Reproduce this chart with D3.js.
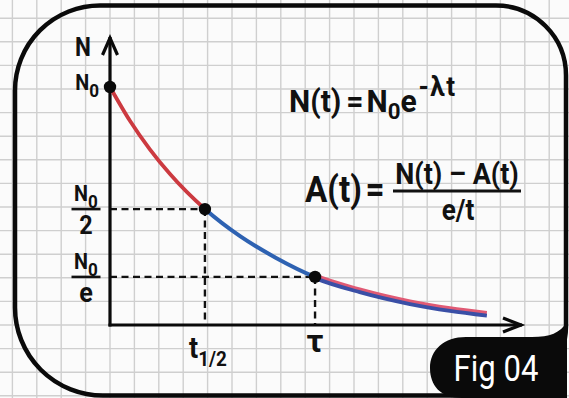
<!DOCTYPE html>
<html>
<head>
<meta charset="utf-8">
<script src="https://cdn.jsdelivr.net/npm/d3@7"></script>
<style>
  html, body { margin: 0; padding: 0; background: #fbfbfb; }
  svg { display: block; }
  text { font-family: Roboto, "Noto Sans", sans-serif; fill: #111; }
</style>
</head>
<body>
<svg id="chart" width="569" height="398"></svg>
<script>
// Decay curve samples: time in units of the half-life, N in units of N0
const tValues = [0, 0.21, 0.42, 0.63, 1.0, 1.37, 1.74, 2.16, 2.63, 3.16, 3.58, 3.97];
const nValues = [1, 0.858, 0.738, 0.635, 0.487, 0.373, 0.284, 0.202, 0.143, 0.093, 0.064, 0.044];

// Marked points: start, half-life, mean lifetime
const markerT = [0, 1.0, 2.16];
const markerN = [1, 0.487, 0.202];

// Axis tick labels
const xTickLabels = ["t", "τ"];          // t½ and τ
const xTickValues = [1.0, 2.16];
const yTickValues = [1, 0.487, 0.202];   // N0, N0/2, N0/e

const W = 569, H = 398;
const svg = d3.select("#chart");

const x = d3.scaleLinear().domain([0, 4.34]).range([110, 522]);
const y = d3.scaleLinear().domain([0, 1]).range([325, 87]);

// ---- graph-paper background ----
const gridStepX = 24.4, gridStepY = 23.6;
const grid = svg.append("g").attr("stroke", "#cfcfcf").attr("stroke-width", 1.4);
d3.range(x(0) - gridStepX * 5, W + 1, gridStepX).forEach(gx => {
  grid.append("line").attr("x1", gx).attr("x2", gx).attr("y1", 0).attr("y2", H);
});
d3.range(y(0) + gridStepY * 3, -1, -gridStepY).forEach(gy => {
  grid.append("line").attr("x1", 0).attr("x2", W).attr("y1", gy).attr("y2", gy);
});

// ---- rounded frame ----
(function frame() {
  const L = 15, R = 566, T = 5.5, B = 395.5;
  const rTL = 85, rTR = 70, rBL = 88, rBR = 70;
  const p = d3.path();
  p.moveTo(L + rTL, T);
  p.lineTo(R - rTR, T);
  p.arcTo(R, T, R, T + rTR, rTR);
  p.lineTo(R, B - rBR);
  p.arcTo(R, B, R - rBR, B, rBR);
  p.lineTo(L + rBL, B);
  p.arcTo(L, B, L, B - rBL, rBL);
  p.lineTo(L, T + rTL);
  p.arcTo(L, T, L + rTL, T, rTL);
  p.closePath();
  svg.append("path").attr("d", p.toString())
    .attr("fill", "none").attr("stroke", "#0a0a0a").attr("stroke-width", 4.5);
})();

// ---- guide lines to the marked points ----
const dash = svg.append("g").attr("stroke", "#111").attr("stroke-width", 2.4)
  .attr("stroke-dasharray", "7,4.5").attr("fill", "none");
[1, 2].forEach(i => {
  dash.append("line").attr("x1", x(0)).attr("x2", x(markerT[i]))
    .attr("y1", y(markerN[i])).attr("y2", y(markerN[i]));
  dash.append("line").attr("x1", x(markerT[i])).attr("x2", x(markerT[i]))
    .attr("y1", y(markerN[i])).attr("y2", y(0));
});

// ---- axes with open arrowheads ----
const axes = svg.append("g").attr("stroke", "#0a0a0a").attr("fill", "none")
  .attr("stroke-width", 3.2).attr("stroke-linecap", "butt").attr("stroke-linejoin", "miter");
const yTop = 37, xEnd = x(4.34);
axes.append("path").attr("d", `M${x(0)},${y(0) + 1.5}V${yTop}`);
axes.append("path").attr("d", `M${x(0) - 7.5},${yTop + 18}L${x(0)},${yTop + 1}L${x(0) + 7.5},${yTop + 18}`);
axes.append("path").attr("d", `M${x(0) - 1.5},${y(0)}H${xEnd}`);
axes.append("path").attr("d", `M${xEnd - 19},${y(0) - 7}L${xEnd - 1},${y(0)}L${xEnd - 19},${y(0) + 7}`);

// ---- decay curve, coloured by interval ----
const pts = tValues.map((t, i) => [t, nValues[i]]);
const line = d3.line().x(d => x(d[0])).y(d => y(d[1])).curve(d3.curveMonotoneX);
const defs = svg.append("defs");
function clip(id, t0, t1) {
  defs.append("clipPath").attr("id", id).append("rect")
    .attr("x", x(t0)).attr("y", 0).attr("width", x(t1) - x(t0)).attr("height", H);
  return `url(#${id})`;
}
const cRed = clip("seg-a", -0.1, markerT[1]);
const cBlue = clip("seg-b", markerT[1], markerT[2]);
const cMix = clip("seg-c", markerT[2], 5);
const curveG = svg.append("g").attr("fill", "none").attr("stroke-linecap", "butt");
curveG.append("path").attr("d", line(pts)).attr("clip-path", cRed)
  .attr("stroke", "#cc3a40").attr("stroke-width", 3.8);
curveG.append("path").attr("d", line(pts)).attr("clip-path", cBlue)
  .attr("stroke", "#2e62b2").attr("stroke-width", 4);
const mix = curveG.append("g").attr("clip-path", cMix);
mix.append("path").attr("d", line(pts)).attr("transform", "translate(0,-1.7)")
  .attr("stroke", "#e05a74").attr("stroke-width", 3.6);
mix.append("path").attr("d", line(pts)).attr("transform", "translate(0,1.2)")
  .attr("stroke", "#3a4fa6").attr("stroke-width", 3.8);

// ---- marker dots ----
svg.append("g").selectAll("circle").data(markerT).join("circle")
  .attr("cx", d => x(d)).attr("cy", (d, i) => y(markerN[i])).attr("r", 6.2).attr("fill", "#0a0a0a");

// ---- text helpers (slightly condensed bold face) ----
function rich(xp, yp, parts, anchor, sx) {
  const g = svg.append("g").attr("transform", `translate(${xp},${yp}) scale(${sx || 0.9},1)`);
  const t = g.append("text").attr("x", 0).attr("y", 0).attr("font-weight", 700)
    .attr("text-anchor", anchor || "start");
  parts.forEach(p => {
    const ts = t.append("tspan").attr("font-size", p.size).attr("dy", p.dy || 0).text(p.s);
    if (p.dx) ts.attr("dx", p.dx);
    if (p.ls) ts.attr("letter-spacing", p.ls);
  });
  return t;
}
function fraction(cx, yBar, numParts, denom, denSize, barW) {
  rich(cx, yBar - 8, numParts, "middle");
  svg.append("line").attr("x1", cx - barW / 2).attr("x2", cx + barW / 2)
    .attr("y1", yBar).attr("y2", yBar).attr("stroke", "#111").attr("stroke-width", 2.6);
  rich(cx, yBar + 25, [{ s: denom, size: denSize }], "middle");
}

// axis title
rich(83, 56, [{ s: "N", size: 25 }], "middle");

// y tick labels
const n0 = [{ s: "N", size: 22 }, { s: "0", size: 19, dy: 7 }];
rich(99, y(yTickValues[0]) + 3, n0, "end");
fraction(86, y(yTickValues[1]), n0, "2", 26, 29);
fraction(86, y(yTickValues[2]), n0, "e", 28, 29);

// x tick labels
rich(x(xTickValues[0]) + 3, 358, [{ s: xTickLabels[0], size: 30 }, { s: "1/2", size: 21, dy: 8 }], "middle");
rich(x(xTickValues[1]), 352, [{ s: xTickLabels[1], size: 31 }], "middle", 1.05);

// formulas
rich(289, 112, [
  { s: "N(t)", size: 31 },
  { s: "=", size: 31, dx: 5 },
  { s: "N", size: 31, dx: 3 },
  { s: "0", size: 23, dy: 7 },
  { s: "e", size: 31, dy: -7 },
  { s: "-λt", size: 27, dy: -16, dx: 2, ls: 1.5 }
], "start", 0.97);
rich(305, 202, [{ s: "A(t)", size: 37 }, { s: "=", size: 37, dx: 4 }], "start", 0.9);
rich(457, 184, [{ s: "N(t) – A(t)", size: 30 }], "middle", 0.9);
svg.append("line").attr("x1", 393).attr("x2", 521).attr("y1", 191).attr("y2", 191)
  .attr("stroke", "#111").attr("stroke-width", 3);
rich(458, 220, [{ s: "e/t", size: 29 }], "middle", 0.9);

// ---- figure badge ----
svg.append("path")
  .attr("d", "M466,337 H532 C550,337 560,333 567,322 V398 H462 C440,398 430,385 430,368 C430,350 444,337 466,337 Z")
  .attr("fill", "#0a0a0a");
svg.append("g").attr("transform", "translate(496,381) scale(0.84,1)")
  .append("text").attr("text-anchor", "middle")
  .attr("font-size", 37).attr("font-weight", 400).style("fill", "#fff").text("Fig 04");
</script>
</body>
</html>
